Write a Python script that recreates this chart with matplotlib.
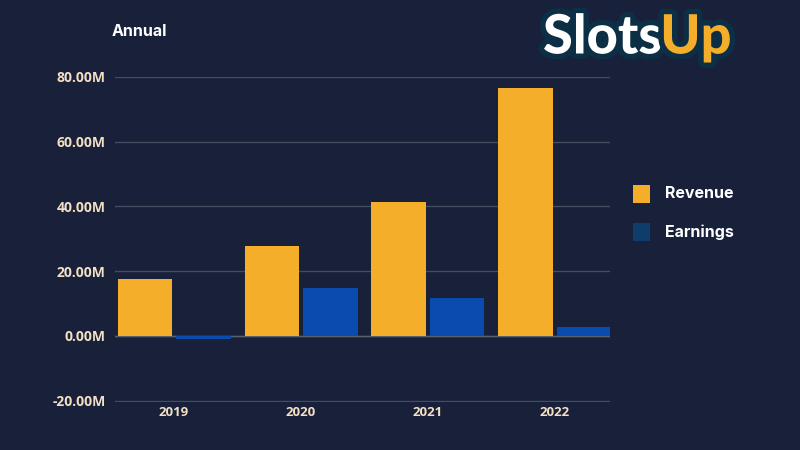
import matplotlib
matplotlib.use("Agg")
import matplotlib.pyplot as plt
import matplotlib.patheffects as pe
from matplotlib.patches import Rectangle
import numpy as np

years = ["2019", "2020", "2021", "2022"]
revenue = [17.5, 27.7, 41.5, 76.6]      # millions
earnings = [-1.0, 14.8, 11.7, 2.8]      # millions
yticks = [-20, 0, 20, 40, 60, 80]
ytick_labels = ["-20.00M", "0.00M", "20.00M", "40.00M", "60.00M", "80.00M"]

BG = "#18203a"
REV = "#f5ae2a"
EARN = "#0a4bb0"
EARN_LEG = "#0e3d6c"
TICK = "#f2dfc4"
GRID = "#454c5e"

fig = plt.figure(figsize=(8, 4.5), dpi=100, facecolor=BG)
ax = fig.add_axes([0.144, 0.1067, 0.6185, 0.7223], facecolor=BG)

x = np.arange(len(years))
w = 0.43
ax.bar(x - 0.225, revenue, width=w, color=REV, zorder=3)
ax.bar(x + 0.235, earnings, width=w, color=EARN, zorder=3)

ax.set_xlim(-0.46, 3.44)
ax.set_ylim(-20.4, 80)
ax.set_yticks(yticks)
ax.set_yticklabels(ytick_labels)
ax.set_xticks(x)
ax.set_xticklabels(years)
ax.grid(axis="y", color=GRID, linewidth=1, zorder=0)
ax.axhline(0, color="#5a6070", linewidth=1, zorder=2)
for s in ax.spines.values():
    s.set_visible(False)
ax.tick_params(axis="both", length=0, colors=TICK)
ax.tick_params(axis="y", pad=7)
ax.tick_params(axis="x", pad=3)
for lab in ax.get_yticklabels():
    lab.set_fontfamily("Open Sans")
    lab.set_fontweight("bold")
    lab.set_fontsize(10)
for lab in ax.get_xticklabels():
    lab.set_fontfamily("Open Sans")
    lab.set_fontweight("bold")
    lab.set_fontsize(9.5)

fig.text(112 / 800, 1 - 32 / 450, "Annual", color="white", fontsize=11.5,
         fontweight="bold", family="Inter", va="center", ha="left")

# legend
for yy, col, lab in [(194, REV, "Revenue"), (232, EARN_LEG, "Earnings")]:
    fig.patches.append(Rectangle((633 / 800, 1 - (yy + 9) / 450), 17 / 800, 18 / 450,
                                 transform=fig.transFigure, facecolor=col,
                                 edgecolor="none"))
    fig.text(665 / 800, 1 - yy / 450, lab, color="white", fontsize=11.5,
             fontweight="bold", family="Inter", va="center", ha="left")

# logo
outline = [pe.withStroke(linewidth=8, foreground="#0d2f45")]
t1 = fig.text(543 / 800, 1 - 38 / 450, "Slots", color="white", fontsize=39,
              fontweight="black", family="Lato", va="center", ha="left",
              path_effects=outline)
fig.canvas.draw()
bb = t1.get_window_extent()
fig.text((bb.x1 - 2) / 800, 1 - 38 / 450, "Up", color=REV, fontsize=39,
         fontweight="black", family="Lato", va="center", ha="left",
         path_effects=outline)

fig.savefig("out.png", dpi=100, facecolor=BG)
